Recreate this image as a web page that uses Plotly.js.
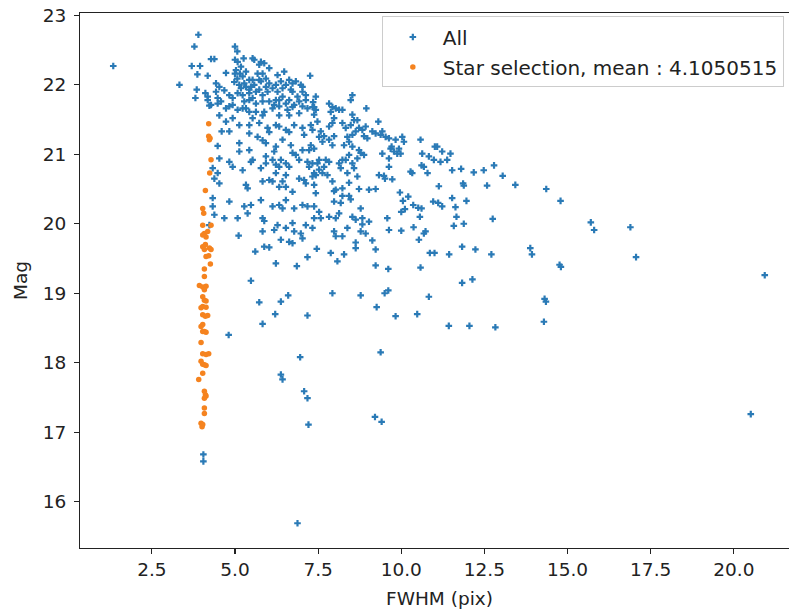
<!DOCTYPE html>
<html>
<head>
<meta charset="utf-8">
<script src="https://cdn.plot.ly/plotly-3.0.1.min.js"></script>
<style>
html, body { margin: 0; padding: 0; overflow: hidden; background: #fff; width: 789px; height: 612px; }
#chart { width: 810px; height: 612px; }
</style>
</head>
<body>
<div id="chart"></div>
<script>
// "All" sources: FWHM (pix) and Mag
const allPts = [
[1.34,22.27],[3.33,22.00],[3.90,22.72],[3.78,22.55],[3.70,22.27],[3.95,22.27],[3.87,22.15],[3.85,21.93],[3.81,21.81],
[4.05,16.68],[4.05,16.58],[4.81,18.40],[6.88,15.69],
[4.28,22.37],[4.38,22.37],[4.18,22.13],[4.73,22.17],[5.00,22.55],[5.07,22.48],[5.00,22.36],[5.08,22.33],[5.26,22.38],
[5.53,22.38],[5.78,22.33],[5.88,22.31],[6.03,22.24],[5.00,22.16],[5.15,22.16],[5.07,22.09],[5.33,22.19],[5.68,22.16],
[5.73,22.07],[5.93,22.09],[6.03,22.02],[6.28,22.14],[6.48,22.19],[6.63,22.07],[6.83,22.05],[6.98,22.00],[7.26,22.13],
[4.11,21.88],[4.18,21.83],[4.43,22.02],[4.53,21.97],[4.68,21.92],[4.83,21.85],[4.43,21.90],[4.48,21.81],[4.58,21.76],
[5.18,21.95],[5.33,21.97],[5.48,21.97],[5.23,21.85],[5.43,21.88],[5.53,21.81],[5.28,21.76],[5.73,21.93],[5.83,21.85],
[5.98,21.90],[6.13,21.95],[6.28,21.90],[6.43,21.95],[6.53,22.00],[6.73,21.90],[6.88,21.83],[7.03,21.90],[7.13,21.85],
[6.03,21.76],[6.18,21.71],[6.33,21.78],[6.53,21.73],[6.73,21.68],[6.93,21.76],[4.28,21.71],[4.48,21.73],[4.73,21.66],
[4.93,21.71],[5.08,21.64],[5.33,21.66],[5.63,21.61],[5.83,21.56],[5.53,21.52],[6.33,21.56],[6.63,21.56],[6.93,21.59],
[7.18,21.66],[7.38,21.68],[4.53,21.56],[4.73,21.47],[4.93,21.52],[5.13,21.42],[5.43,21.42],[5.73,21.45],[5.98,21.38],
[6.23,21.42],[6.53,21.35],[6.78,21.42],[7.03,21.38],[7.28,21.42],[4.60,21.33],[4.83,21.33],
[5.03,22.21],[5.18,22.26],[5.23,22.12],[4.98,22.04],[5.13,22.00],[5.28,22.02],[5.43,22.07],[5.58,22.00],[5.43,21.93],
[5.63,21.90],[5.78,22.05],[5.93,21.97],[6.23,22.00],[6.38,22.05],[6.68,21.93],[6.63,21.78],[6.43,21.83],[6.23,21.78],
[5.83,21.76],[5.63,21.73],[5.43,21.78],[5.08,21.88],[4.93,21.81],[4.83,21.69],[5.23,21.66],[5.43,21.61],[5.88,21.61],
[6.13,21.66],[6.33,21.69],[6.58,21.64],[6.78,21.71],[7.03,21.69],[7.13,21.78],[7.43,21.83],[7.35,21.75],
[5.58,22.36],[5.73,22.29],[5.83,22.16],[5.53,22.07],[6.73,22.02],[7.03,21.97],[4.18,21.78],[4.23,21.70],
[8.53,21.85],[8.48,21.78],[8.95,21.66],[7.83,21.73],[7.93,21.68],[8.03,21.66],[8.13,21.64],[8.23,21.64],[7.88,21.61],
[7.33,21.68],[7.43,21.64],[7.38,21.57],[7.33,21.35],[7.48,21.47],[7.58,21.33],[7.68,21.26],[7.63,21.18],[7.83,21.21],
[7.98,21.26],[7.83,21.40],[7.98,21.52],[7.93,21.45],[8.23,21.45],[8.33,21.38],[8.48,21.42],[8.58,21.49],[8.68,21.49],
[8.73,21.38],[8.63,21.33],[8.53,21.28],[8.38,21.25],[8.43,21.18],[8.28,21.13],[8.83,21.35],[8.88,21.26],[8.98,21.23],
[8.73,21.06],[8.78,21.02],[8.68,20.94],[8.43,20.99],[8.33,20.92],[8.23,20.92],[8.53,20.87],[9.31,21.47],[9.13,21.33],
[9.23,21.30],[9.38,21.28],[9.53,21.25],[9.63,21.23],[9.43,21.01],[9.68,21.08],[9.93,21.08],[10.08,21.18],[10.58,21.21],
[11.08,21.11],[11.23,21.04],[11.38,20.92],[10.63,21.01],[10.83,20.97],[10.98,20.92],[7.23,21.06],[7.38,21.08],[7.53,20.92],
[7.33,20.87],[7.73,20.92],[7.83,20.89],[8.13,20.87],[9.63,20.82],[10.68,20.82],
[8.53,21.57],[8.93,21.40],[9.43,21.33],[9.83,21.21],[7.53,21.25],[7.93,21.13],[8.53,21.11],[8.88,20.99],[8.38,20.73],[8.68,20.68],
[10.03,21.25],[9.71,21.11],[9.88,21.01],[9.98,21.01],[11.01,21.11],[11.18,20.89],[11.48,21.01],[10.61,20.84],[10.79,20.73],
[10.28,20.75],[10.33,20.73],[9.51,20.65],[9.73,20.64],[11.53,20.77],[11.80,20.79],[12.18,20.74],[12.48,20.77],[12.79,20.84],
[13.05,20.69],[13.43,20.56],[14.36,20.50],[14.79,20.33],[11.13,20.54],[11.86,20.58],[11.88,20.55],[12.58,20.55],[9.96,20.45],
[10.05,20.33],[10.21,20.39],[10.11,20.21],[10.36,20.27],[10.51,20.23],[10.61,20.22],[10.96,20.32],[11.11,20.30],[11.23,20.25],
[11.53,20.37],[11.63,20.24],[11.96,20.33],[10.00,20.17],[10.56,20.10],[9.58,20.08],[11.66,20.10],[11.58,19.97],[11.88,20.00],
[12.75,20.07],[10.37,19.95],[10.73,19.89],[10.68,19.86],[10.00,19.90],[10.53,19.77],[15.70,20.02],[15.80,19.91],[16.89,19.95],
[17.06,19.52],[20.93,19.26],[10.86,19.58],[11.00,19.58],[11.44,19.56],[11.83,19.67],[12.23,19.63],[12.71,19.56],[13.88,19.65],
[13.93,19.56],[14.76,19.41],[14.80,19.38],[9.61,19.35],[10.58,19.37],[11.83,19.15],[12.14,19.20],[9.50,19.00],[9.61,19.04],
[10.83,18.95],[14.31,18.92],[9.48,20.69],[9.33,20.70],[9.23,20.50],[9.13,19.76],[9.23,19.63],[9.23,19.40],
[9.26,18.80],[9.83,18.67],[10.48,18.70],[11.43,18.53],[12.05,18.53],[12.83,18.51],[14.29,18.59],[14.35,18.88],[9.38,18.15],
[9.41,17.15],[9.21,17.22],[20.51,17.26],[5.73,18.87],[6.38,18.88],[6.60,18.97],[6.21,18.70],[7.18,18.68],[5.83,18.56],
[6.96,18.08],[6.38,17.83],[6.43,17.76],[7.08,17.59],[7.18,17.49],[7.21,17.11],
[5.43,21.30],[5.68,21.25],[5.83,21.20],[6.03,21.32],[6.33,21.40],[6.63,21.32],[7.08,21.28],
[4.48,21.12],[4.53,20.94],[4.83,20.89],[4.93,20.82],[5.13,21.04],[5.43,21.06],[5.48,20.89],[5.23,20.77],[5.78,20.80],
[5.93,20.97],[6.18,21.04],[6.23,20.85],[6.38,20.92],[6.53,20.70],[6.63,20.82],[6.83,20.99],[7.03,21.06],[7.28,21.13],[7.18,20.89],
[5.13,21.16],[5.93,21.16],[6.23,21.11],[6.43,21.21],[6.68,21.13],[5.53,20.92],[5.93,20.87],[6.13,20.92],[6.33,20.82],
[6.23,20.73],[6.53,20.87],[6.73,21.02],[6.93,20.92],[7.23,20.82],[7.48,20.87],[7.53,20.78],
[4.38,20.65],[4.53,20.58],[5.33,20.56],[5.38,20.51],[5.83,20.61],[6.03,20.63],[6.33,20.53],[6.53,20.53],[6.73,20.46],
[6.93,20.65],[7.13,20.58],[7.38,20.56],[4.33,20.80],[4.48,20.73],[6.13,20.61],[6.43,20.61],[7.08,20.63],[7.38,20.73],
[7.78,20.70],[7.93,20.61],[8.03,20.49],[8.43,20.40],[8.48,20.35],[9.03,20.49],[9.63,20.94],[9.78,21.04],
[4.33,20.25],[4.38,20.13],[4.83,20.32],[5.28,20.25],[5.48,20.27],[5.38,20.15],[5.78,20.34],[6.13,20.25],[6.33,20.27],
[6.53,20.34],[6.78,20.22],[6.73,20.01],[7.03,20.27],[7.18,20.25],[7.38,20.08],[7.53,20.17],[4.23,19.98],[4.68,20.08],
[5.08,20.08],[4.33,20.37],[5.83,20.08],[5.88,20.04],[6.43,20.22],[7.83,20.10],
[5.83,19.89],[6.28,19.98],[6.53,19.94],[6.78,19.89],[7.13,19.98],[7.33,19.94],
[5.11,19.83],[6.18,19.91],[6.38,19.77],[6.63,19.74],[6.73,19.72],[6.98,19.86],[7.03,19.79],[5.61,19.60],[5.88,19.67],
[6.03,19.66],[7.46,19.64],[6.23,19.43],[6.86,19.39],[7.18,19.52],[5.48,19.18],
[7.68,20.82],[8.18,20.80],[8.58,20.80],[7.43,20.70],[7.33,20.68],[7.63,20.73],[8.43,20.59],[7.43,20.44],[7.98,20.47],
[8.23,20.51],[8.73,20.50],[7.38,20.25],[7.98,20.32],[7.58,20.08],[8.13,20.15],[8.03,20.08],[8.78,20.22],[8.63,20.06],
[9.03,20.03],[8.83,19.99],[8.78,19.89],[8.38,19.94],[7.98,19.89],[8.03,19.82],[8.23,19.82],[8.63,19.73],[7.88,19.58],
[8.08,19.46],[8.18,20.30],[8.23,20.40],[8.53,20.10],[8.28,19.56],[8.63,19.65],[8.83,20.08],[8.93,19.86],[9.63,19.91],
[7.93,19.00],[8.78,18.97]
];
const allX = allPts.map(p => p[0]);
const allY = allPts.map(p => p[1]);

// "Star selection" sources
const starPts = [
[4.21,21.44],[4.21,21.26],[4.23,21.21],[4.25,21.23],[4.28,20.92],[4.24,20.73],[4.11,20.48],[4.03,20.22],[4.06,20.15],
[4.03,19.98],[4.28,19.98],[4.08,19.86],[4.18,19.89],[4.13,19.81],[4.03,19.84],[4.03,19.67],[4.11,19.70],[4.23,19.65],
[4.28,19.63],[4.08,19.63],[4.13,19.53],[4.21,19.54],[4.26,19.42],[4.08,19.35],[4.08,19.24],[3.93,19.11],[4.03,19.09],
[4.13,19.10],[4.08,19.05],[4.03,18.95],[4.08,18.90],[4.13,18.89],[4.03,18.81],[3.98,18.79],[4.13,18.80],[4.03,18.69],
[4.11,18.67],[4.18,18.68],[3.98,18.52],[4.03,18.45],[4.08,18.45],[4.13,18.44],[4.03,18.55],[3.98,18.29],[4.03,18.13],
[4.13,18.12],[4.21,18.13],[3.98,18.02],[4.03,17.98],[4.08,17.97],[4.13,17.96],[4.03,17.85],[3.91,17.76],[4.08,17.59],
[4.11,17.54],[4.13,17.52],[4.08,17.49],[4.08,17.35],[4.08,17.27],[3.98,17.13],[4.01,17.08],[4.03,17.11]
];
const starX = starPts.map(p => p[0]);
const starY = starPts.map(p => p[1]);

const starMean = "4.1050515";
const xTickVals = [2.5, 5.0, 7.5, 10.0, 12.5, 15.0, 17.5, 20.0];
const xTickText = ["2.5", "5.0", "7.5", "10.0", "12.5", "15.0", "17.5", "20.0"];
const yTickVals = [16, 17, 18, 19, 20, 21, 22, 23];

const FONT = "DejaVu Sans, sans-serif";
const FS = 18.5;
const LFS = 20;

const traces = [
  {
    type: "scatter", mode: "markers", name: "All", legendgroup: "a",
    x: allX, y: allY,
    marker: { symbol: "cross", size: 5.5, color: "#2a7ab6", line: { width: 0 } }
  },
  {
    type: "scatter", mode: "markers", name: "Star selection, mean : " + starMean, legendgroup: "b",
    x: starX, y: starY,
    marker: { symbol: "circle", size: 5.5, color: "#f5831f", line: { width: 0 } }
  }
];

const layout = {
  width: 810, height: 612,
  margin: { l: 80, r: 11.4, t: 12.7, b: 63.7, pad: 0 },
  paper_bgcolor: "#ffffff", plot_bgcolor: "#ffffff",
  font: { family: FONT, size: FS, color: "#222222" },
  showlegend: true,
  legend: {
    x: 0.4198, y: 0.9935, xanchor: "left", yanchor: "top",
    bgcolor: "rgba(255,255,255,0.8)", bordercolor: "#cccccc", borderwidth: 1,
    font: { family: FONT, size: LFS, color: "#222222" },
    traceorder: "grouped", tracegroupgap: 1, itemwidth: 50
  },
  xaxis: {
    range: [0.34, 21.96],
    tickmode: "array", tickvals: xTickVals, ticktext: xTickText,
    ticks: "outside", ticklen: 5, tickwidth: 1.1, tickcolor: "#222",
    showline: true, linecolor: "#222", linewidth: 1.1, mirror: true,
    showgrid: false, zeroline: false,
    title: { text: "FWHM (pix)", font: { family: FONT, size: FS, color: "#222" }, standoff: 12 }
  },
  yaxis: {
    range: [15.334, 23.033],
    tickmode: "array", tickvals: yTickVals,
    ticks: "outside", ticklen: 5, tickwidth: 1.1, tickcolor: "#222",
    showline: true, linecolor: "#222", linewidth: 1.1, mirror: true,
    showgrid: false, zeroline: false, ticklabelstandoff: 4,
    title: { text: "Mag", font: { family: FONT, size: FS, color: "#222" }, standoff: 10 }
  }
};

Plotly.newPlot("chart", traces, layout, { displayModeBar: false, staticPlot: true });
</script>
</body>
</html>
